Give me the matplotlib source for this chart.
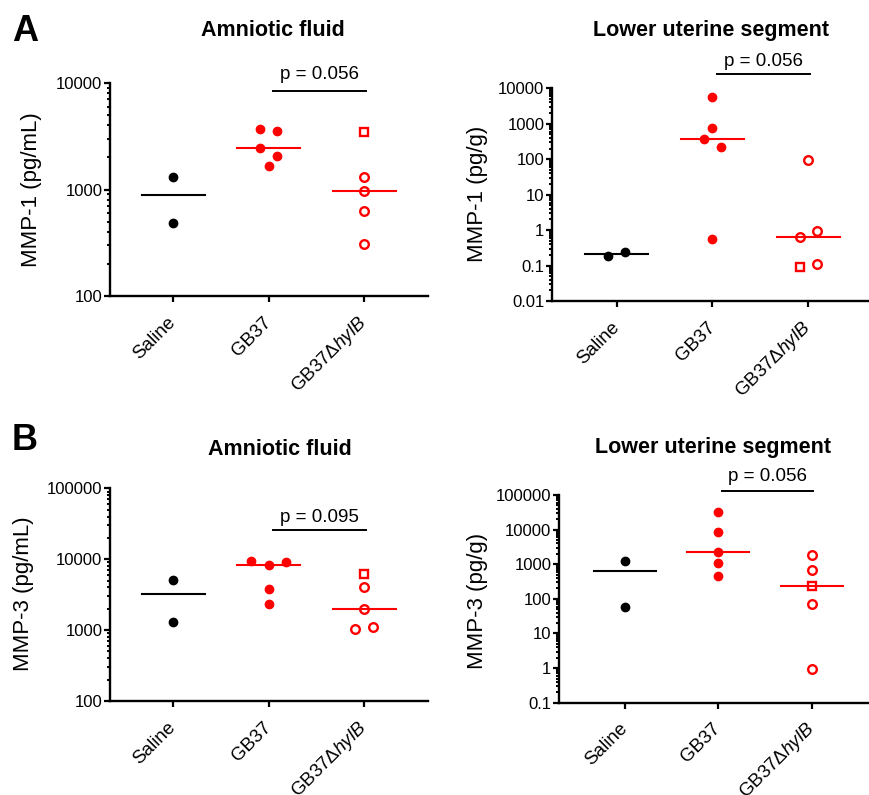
import matplotlib
matplotlib.use("Agg")
import matplotlib.pyplot as plt
import numpy as np
from matplotlib.ticker import LogLocator, FuncFormatter, NullFormatter

plt.rcParams['font.family'] = ['Liberation Sans', 'DejaVu Sans']
plt.rcParams['mathtext.fontset'] = 'custom'
plt.rcParams['mathtext.rm'] = 'Liberation Sans'
plt.rcParams['mathtext.it'] = 'Liberation Sans:italic'

# ---------------- data ----------------
categories = ['Saline', 'GB37', 'GB37Δ$\\mathit{hylB}$']

# Panel A left: MMP-1 amniotic fluid (pg/mL)
a1_saline = [1310, 484]
a1_gb37 = [3700, 3540, 2440, 2050, 1672]
a1_hylb = [3490, 1318, 975, 632, 305]
a1_median = [897, 2440, 975]

# Panel A right: MMP-1 lower uterine segment (pg/g)
a2_saline = [0.19, 0.237]
a2_gb37 = [5800, 743, 363, 221, 0.573]
a2_hylb = [95, 0.652, 0.96, 0.113, 0.089]
a2_median = [0.213, 363, 0.652]

# Panel B left: MMP-3 amniotic fluid (pg/mL)
b1_saline = [5090, 1288]
b1_gb37 = [9530, 9220, 8360, 3840, 2310]
b1_hylb = [6180, 4010, 1983, 1036, 1107]
b1_median = [3190, 8360, 1983]

# Panel B right: MMP-3 lower uterine segment (pg/g)
b2_saline = [1238, 59]
b2_gb37 = [32300, 8340, 2250, 1107, 456]
b2_hylb = [1845, 665, 239, 69, 0.92]
b2_median = [650, 2250, 239]

p_values = ['p = 0.056', 'p = 0.056', 'p = 0.095', 'p = 0.056']
titles = ['Amniotic fluid', 'Lower uterine segment', 'Amniotic fluid', 'Lower uterine segment']
ylabels = ['MMP-1 (pg/mL)', 'MMP-1 (pg/g)', 'MMP-3 (pg/mL)', 'MMP-3 (pg/g)']
ylims = [(100, 10000), (0.01, 10000), (100, 100000), (0.1, 100000)]

# ---------------- layout / style ----------------
# jitter offsets (display only) for each group of each panel
offsets = [
    ([0, 0], [-0.09, 0.09, -0.09, 0.09, 0], [0, 0, 0, 0, 0]),
    ([-0.09, 0.09], [0, 0, -0.09, 0.09, 0], [0, -0.09, 0.09, 0.09, -0.09]),
    ([0, 0], [-0.18, 0.18, 0, 0, 0], [0, 0, 0, -0.09, 0.09]),
    ([0, 0], [0, 0, 0, 0, 0], [0, 0, 0, 0, 0]),
]
square_idx = [0, 4, 0, 2]  # which hylB point is a square

axes_rects = [
    [110/869, 1-296/795, 318/869, 213/795],
    [552/869, 1-301/795, 317/869, 212.7/795],
    [110/869, 1-701/795, 318/869, 212.7/795],
    [559/869, 1-702.7/795, 310/869, 207.7/795],
]
xlims = [(-0.66, 2.67), (-0.676, 2.636), (-0.66, 2.67), (-0.703, 2.613)]
bracket = [(1.05, 2.02, 0.964, 1.019), (1.048, 2.02, 1.067, 1.106),
           (1.05, 2.02, 0.804, 0.840), (1.04, 2.01, 1.021, 1.067)]
title_pos = [(0.314, 0.9547), (0.818, 0.9547), (0.322, 0.4277), (0.8205, 0.4306)]
ylabel_pos = [(-0.248, 0.5), (-0.236, 0.505), (-0.273, 0.503), (-0.264, 0.49)]

RED = '#ff0000'
data = [
    (a1_saline, a1_gb37, a1_hylb, a1_median),
    (a2_saline, a2_gb37, a2_hylb, a2_median),
    (b1_saline, b1_gb37, b1_hylb, b1_median),
    (b2_saline, b2_gb37, b2_hylb, b2_median),
]

fig = plt.figure(figsize=(8.69, 7.95), dpi=100)

def fmt(v, pos):
    return '{:g}'.format(v)

for i in range(4):
    ax = fig.add_axes(axes_rects[i])
    sal, gb, hy, med = data[i]
    off_s, off_g, off_h = offsets[i]
    ax.set_yscale('log')
    # saline
    ax.plot(np.array(off_s) + 0, sal, 'o', color='black', ms=6, mec='black', zorder=3, clip_on=False)
    # gb37
    ax.plot(np.array(off_g) + 1, gb, 'o', color=RED, ms=6, mec=RED, zorder=3, clip_on=False)
    # hylB
    for j, v in enumerate(hy):
        mk = 's' if j == square_idx[i] else 'o'
        ax.plot([2 + off_h[j]], [v], mk, mfc='none', mec=RED,
                ms=6.2 if mk == 'o' else 5.6, mew=1.7, zorder=3, clip_on=False)
    # medians
    for k, m in enumerate(med):
        ax.plot([k - 0.33, k + 0.33], [m, m], '-', color='black' if k == 0 else RED, lw=1.5, zorder=2)

    ax.set_xlim(*xlims[i])
    ax.set_ylim(*ylims[i])
    ax.set_xticks([0, 1, 2])
    ax.set_xticklabels(categories, rotation=45, ha='right', va='center',
                       rotation_mode='anchor', fontsize=13.5)
    ax.tick_params(axis='x', length=4.5, width=1.6, pad=12.5)
    ax.yaxis.set_major_locator(LogLocator(base=10, numticks=20))
    ax.yaxis.set_minor_locator(LogLocator(base=10, subs=np.arange(2, 10), numticks=20))
    ax.yaxis.set_major_formatter(FuncFormatter(fmt))
    ax.yaxis.set_minor_formatter(NullFormatter())
    ax.tick_params(axis='y', which='major', length=4, width=1.6, labelsize=12, pad=1.5)
    ax.tick_params(axis='y', which='minor', length=2.5, width=1.4)
    for s in ['top', 'right']:
        ax.spines[s].set_visible(False)
    for s in ['left', 'bottom']:
        ax.spines[s].set_linewidth(1.7)
    ax.set_ylabel(ylabels[i], fontsize=16)
    ax.yaxis.label.set_va('center')
    ax.yaxis.set_label_coords(*ylabel_pos[i])

    x0, x1, yb, yt = bracket[i]
    trans = ax.get_xaxis_transform()
    ax.plot([x0, x1], [yb, yb], '-', color='black', lw=1.4, transform=trans, clip_on=False)
    ax.text((x0 + x1) / 2, yt, p_values[i], transform=trans, ha='center', va='baseline', fontsize=13.5)

    fig.text(title_pos[i][0], title_pos[i][1], titles[i], ha='center', va='baseline',
             fontsize=15.5, fontweight='bold')

fig.text(12.5/869, 0.948, 'A', fontsize=26, fontweight='bold', va='baseline', ha='left')
fig.text(11.5/869, 0.434, 'B', fontsize=26, fontweight='bold', va='baseline', ha='left')

fig.savefig('out.png', dpi=100)
